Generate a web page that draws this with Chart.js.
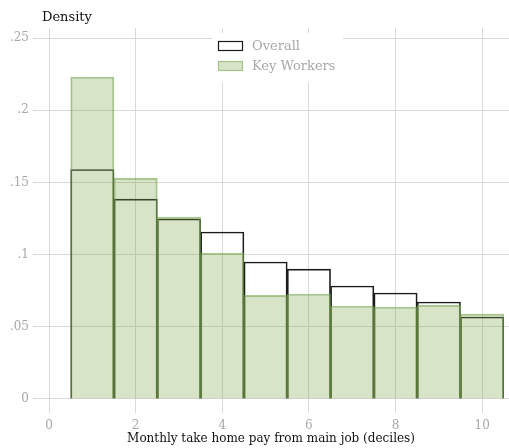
<!DOCTYPE html>
<html>
<head>
<meta charset="utf-8">
<script src="https://cdn.jsdelivr.net/npm/chart.js@4/dist/chart.umd.min.js"></script>
<style>
  html, body { margin: 0; padding: 0; background: #fff; }
  #wrap { width: 509px; height: 448px; position: relative; }
</style>
</head>
<body>
<div id="wrap"><canvas id="chart"></canvas></div>
<script>
// deciles of monthly take home pay
const deciles = [1, 2, 3, 4, 5, 6, 7, 8, 9, 10];
const overallDensity = [0.159, 0.1385, 0.1247, 0.1157, 0.0949, 0.0900, 0.0783, 0.0734, 0.0672, 0.0568];
const keyWorkerDensity = [0.223, 0.153, 0.126, 0.101, 0.0718, 0.0727, 0.0644, 0.0637, 0.0650, 0.0589];
const xTicks = [0, 2, 4, 6, 8, 10];
const yTicks = [0, 0.05, 0.1, 0.15, 0.2, 0.25];
const yTickLabels = ['0', '.05', '.1', '.15', '.2', '.25'];

const FONT = 'DejaVu Serif';
const GRID = '#d9d9d9';
const TICK = '#a8a8a8';

// Stata-style legend box sitting inside the plot, plus the "Density" heading
const legendBox = {
    id: 'legendBox',
    afterDraw(chart) {
        const ctx = chart.ctx;
        ctx.save();
        ctx.fillStyle = '#fff';
        ctx.fillRect(212, 33, 131, 49);
        ctx.font = '13px "' + FONT + '"';
        ctx.textBaseline = 'middle';
        chart.data.datasets.forEach((ds, i) => {
            const y = 46 + i * 20;
            ctx.fillStyle = ds.backgroundColor;
            ctx.fillRect(218.5, y - 4.5, 24, 9);
            ctx.strokeStyle = ds.borderColor;
            ctx.lineWidth = 1.2;
            ctx.strokeRect(218.5, y - 4.5, 24, 9);
            ctx.fillStyle = TICK;
            ctx.fillText(ds.label, 252, y + 1);
        });
        ctx.fillStyle = '#111';
        ctx.textBaseline = 'alphabetic';
        ctx.fillText('Density', 42, 21);
        ctx.restore();
    }
};

new Chart(document.getElementById('chart'), {
    type: 'bar',
    data: {
        datasets: [
            {
                label: 'Overall',
                data: deciles.map((d, i) => ({ x: d, y: overallDensity[i] })),
                backgroundColor: 'rgba(255,255,255,0)',
                borderColor: '#1a1a1a',
                borderWidth: 1,
                grouped: false,
                order: 2,
                barPercentage: 1,
                categoryPercentage: 1,
            },
            {
                label: 'Key Workers',
                data: deciles.map((d, i) => ({ x: d, y: keyWorkerDensity[i] })),
                backgroundColor: 'rgba(125,165,72,0.3)',
                borderColor: 'rgba(120,165,80,0.62)',
                borderWidth: 1.2,
                grouped: false,
                order: 1,
                barPercentage: 1,
                categoryPercentage: 1,
            },
        ],
    },
    options: {
        responsive: true,
        maintainAspectRatio: false,
        animation: { duration: 0 },
        layout: { padding: { top: 28, left: 0, right: 0, bottom: 0 } },
        plugins: {
            legend: { display: false },
            tooltip: { enabled: false },
        },
        scales: {
            x: {
                type: 'linear',
                min: -0.37,
                max: 10.62,
                offset: false,
                afterBuildTicks: (scale) => { scale.ticks = xTicks.map(v => ({ value: v })); },
                afterFit: (scale) => { scale.height = 35; },
                grid: { color: GRID, drawTicks: false, offset: false },
                border: { display: false },
                ticks: { color: TICK, padding: 6, font: { family: FONT, size: 12 } },
                title: {
                    display: true,
                    text: 'Monthly take home pay from main job (deciles)',
                    color: '#111',
                    font: { family: FONT, size: 12 },
                    padding: { top: 0, bottom: 2 },
                },
            },
            y: {
                min: -0.0097,
                max: 0.257,
                afterBuildTicks: (scale) => { scale.ticks = yTicks.map(v => ({ value: v })); },
                afterFit: (scale) => { scale.width = 33; },
                grid: { color: GRID, drawTicks: false },
                border: { display: false },
                ticks: {
                    color: TICK,
                    padding: 4,
                    font: { family: FONT, size: 12 },
                    callback: (v) => yTickLabels[yTicks.indexOf(v)] ?? '',
                },
            },
        },
    },
    plugins: [legendBox],
});
</script>
</body>
</html>
